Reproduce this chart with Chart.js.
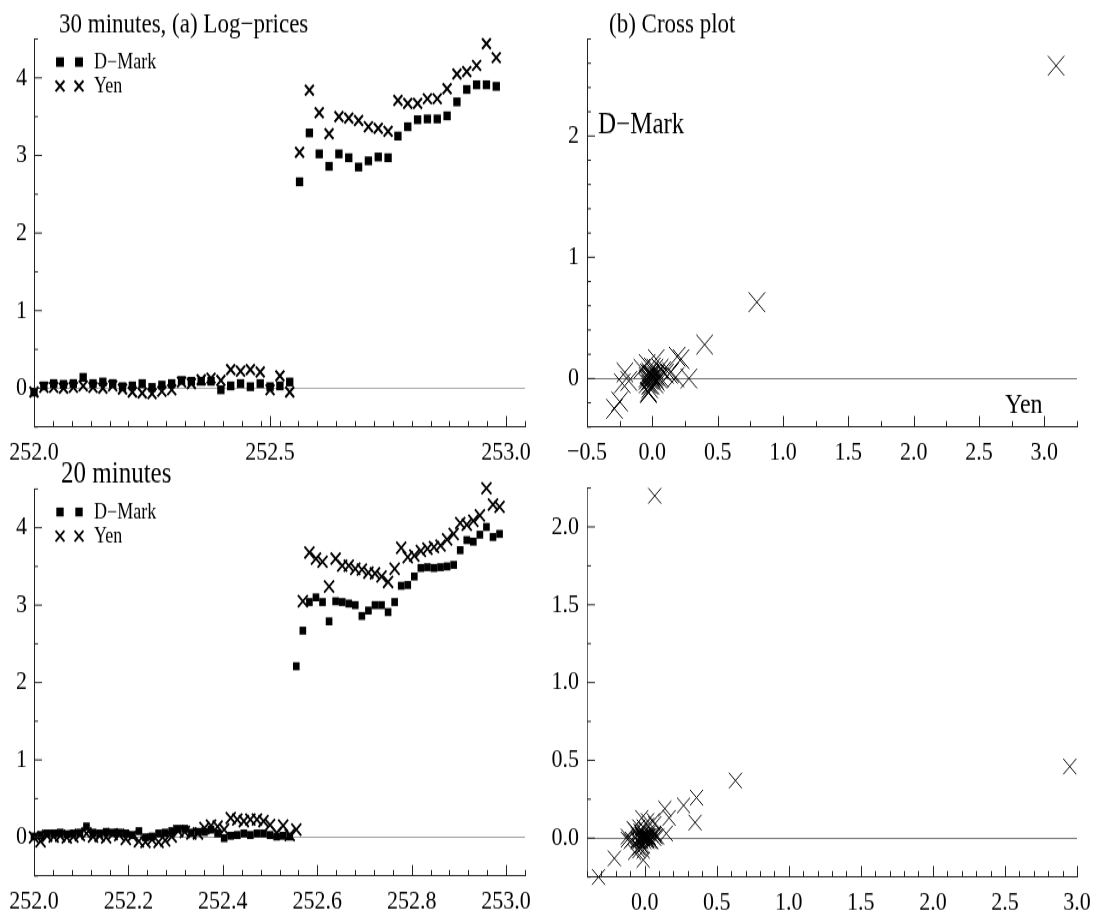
<!DOCTYPE html>
<html>
<head>
<meta charset="utf-8">
<title>Log-prices y cross plot</title>
<script src="https://cdn.jsdelivr.net/npm/chart.js@4/dist/chart.umd.min.js"></script>
<style>
    html, body { margin: 0; padding: 0; background: #fff; }
    #contenedor { position: relative; width: 1094px; height: 911px; }
    #contenedor canvas { position: absolute; left: 0; top: 0; }
</style>
</head>
<body>
<div id="contenedor">
    <!-- El lienzo se dibuja mas bajo y se estira en vertical, como la figura original -->
    <canvas id="precios30" width="1094" height="759" style="width:1094px;height:911px"></canvas>
    <canvas id="cruce30" width="1094" height="759" style="width:1094px;height:911px"></canvas>
    <canvas id="precios20" width="1094" height="759" style="width:1094px;height:911px"></canvas>
    <canvas id="cruce20" width="1094" height="759" style="width:1094px;height:911px"></canvas>
</div>
<script>
// --- DATOS ---
// Dia 252, observaciones cada 30 min (48 por dia) y cada 20 min (72 por dia)
const diaInicio = 252;
const obsPorDia30 = 48;
const obsPorDia20 = 72;

const dmark30 = [-0.05, 0.03, 0.06, 0.05, 0.06, 0.14, 0.06, 0.08, 0.06, 0.02,
    0.03, 0.06, 0.01, 0.04, 0.06, 0.10, 0.09, 0.09, 0.09, -0.02,
    0.03, 0.06, 0.02, 0.06, 0.02, 0.03, 0.08, 2.66, 3.29, 3.02,
    2.86, 3.02, 2.97, 2.85, 2.93, 2.98, 2.97, 3.25, 3.37, 3.46,
    3.47, 3.47, 3.51, 3.69, 3.85, 3.91, 3.91, 3.89];
const yen30 = [-0.05, 0.01, 0.01, 0.00, 0.01, 0.03, 0.01, 0.00, 0.03, -0.01,
    -0.05, -0.06, -0.07, -0.04, -0.02, 0.08, 0.06, 0.11, 0.13, 0.10,
    0.24, 0.22, 0.24, 0.21, -0.02, 0.16, -0.05, 3.04, 3.84, 3.55,
    3.28, 3.50, 3.48, 3.45, 3.37, 3.35, 3.31, 3.71, 3.67, 3.67,
    3.73, 3.73, 3.86, 4.05, 4.08, 4.16, 4.44, 4.26];

const dmark20 = [0.01, 0.03, 0.05, 0.05, 0.06, 0.04, 0.05, 0.06, 0.14, 0.06,
    0.05, 0.07, 0.06, 0.06, 0.05, 0.03, 0.08, 0.00, 0.01, 0.05,
    0.06, 0.08, 0.11, 0.11, 0.06, 0.07, 0.07, 0.10, 0.05, -0.01,
    0.02, 0.03, 0.05, 0.03, 0.05, 0.05, 0.03, 0.01, 0.02, 0.01,
    2.21, 2.67, 3.04, 3.10, 3.04, 2.79, 3.05, 3.04, 3.02, 3.00,
    2.86, 2.93, 3.00, 3.00, 2.91, 3.04, 3.25, 3.26, 3.37, 3.48,
    3.49, 3.48, 3.49, 3.50, 3.52, 3.71, 3.84, 3.82, 3.91, 4.01,
    3.88, 3.92];
const yen20 = [0.00, -0.05, 0.02, 0.01, 0.02, 0.00, 0.01, 0.03, 0.05, 0.01,
    0.02, 0.00, 0.04, 0.03, -0.02, 0.02, -0.05, -0.06, -0.03, -0.06,
    -0.04, 0.01, 0.08, 0.07, 0.05, 0.05, 0.12, 0.15, 0.14, 0.10,
    0.25, 0.23, 0.21, 0.23, 0.23, 0.21, 0.16, 0.06, 0.15, 0.03,
    0.10, 3.05, 3.68, 3.60, 3.56, 3.24, 3.60, 3.51, 3.51, 3.47,
    3.46, 3.42, 3.41, 3.37, 3.30, 3.47, 3.74, 3.62, 3.64, 3.70,
    3.73, 3.75, 3.77, 3.85, 3.92, 4.06, 4.04, 4.09, 4.16, 4.51,
    4.30, 4.27];

// Cross plot: x = Yen, y = D-Mark
const cruceYen30 = [0.06, 0.00, -0.01, 0.01, 0.02, -0.02, -0.01, 0.03, -0.04, -0.04,
    -0.01, -0.01, 0.03, 0.02, 0.10, -0.02, 0.05, 0.02, -0.03, 0.14,
    -0.02, 0.02, -0.03, -0.23, 0.18, -0.21, 3.09, 0.80, -0.29, -0.25,
    0.22, -0.02, -0.03, -0.08, -0.02, -0.04, 0.40, -0.04, 0.00, 0.06,
    0.00, 0.13, 0.19, 0.03, 0.08, 0.28, -0.18];
const cruceDm30 = [0.08, 0.03, -0.01, 0.01, 0.08, -0.08, 0.02, -0.02, -0.04, 0.01,
    0.03, -0.05, 0.03, 0.02, 0.04, -0.01, 0.00, 0.00, -0.11, 0.05,
    0.03, -0.04, 0.04, -0.04, 0.01, 0.05, 2.58, 0.63, -0.25, -0.19,
    0.16, -0.05, -0.12, 0.08, 0.05, -0.01, 0.28, 0.12, 0.09, 0.01,
    0.00, 0.04, 0.18, 0.16, 0.06, 0.00, -0.02];

const cruceYen20 = [-0.05, 0.07, -0.01, 0.01, -0.02, 0.01, 0.02, 0.02, -0.04, 0.01,
    -0.02, 0.04, -0.01, -0.05, 0.04, -0.07, -0.01, 0.03, -0.03, 0.02,
    0.05, 0.07, -0.01, -0.02, 0.00, 0.07, 0.03, -0.01, -0.04, 0.15,
    -0.02, -0.02, 0.02, 0.00, -0.02, -0.05, -0.10, 0.09, -0.12, 0.07,
    2.95, 0.63, -0.08, -0.04, -0.32, 0.36, -0.09, 0.00, -0.04, -0.01,
    -0.04, -0.01, -0.04, -0.07, 0.17, 0.27, -0.12, 0.02, 0.06, 0.03,
    0.02, 0.02, 0.08, 0.07, 0.14, -0.02, 0.05, 0.07, 0.35, -0.21, -0.03];
const cruceDm20 = [0.02, 0.02, 0.00, 0.01, -0.02, 0.01, 0.01, 0.08, -0.08, -0.01,
    0.02, -0.01, 0.00, -0.01, -0.02, 0.05, -0.08, 0.01, 0.04, 0.01,
    0.02, 0.03, 0.00, -0.05, 0.01, 0.00, 0.03, -0.05, -0.06, 0.03,
    0.01, 0.02, -0.02, 0.02, 0.00, -0.02, -0.02, 0.01, -0.01, 2.20,
    0.46, 0.37, 0.06, -0.06, -0.25, 0.26, -0.01, -0.02, -0.02, -0.14,
    0.07, 0.07, 0.00, -0.09, 0.13, 0.21, 0.01, 0.11, 0.11, 0.01,
    -0.01, 0.01, 0.01, 0.02, 0.19, 0.13, -0.02, 0.09, 0.10, -0.13, 0.04];

// Marcas con etiqueta
const marcasTiempo30 = [252.0, 252.5, 253.0];
const marcasTiempo20 = [252.0, 252.2, 252.4, 252.6, 252.8, 253.0];
const marcasPrecio = [0, 1, 2, 3, 4];
const marcasCruce30X = [-0.5, 0.0, 0.5, 1.0, 1.5, 2.0, 2.5, 3.0];
const marcasCruce30Y = [0, 1, 2];
const marcasCruce20X = [0.0, 0.5, 1.0, 1.5, 2.0, 2.5, 3.0];
const marcasCruce20Y = [0.0, 0.5, 1.0, 1.5, 2.0];

const FUENTE = '"Liberation Serif", "Times New Roman", serif';
// Factor de estiramiento vertical (911 px visibles / 759 px de lienzo)
const E = 911 / 759;

// --- AUXILIARES ---
function serieTemporal(valores, porDia) {
    return valores.map((v, i) => ({ x: diaInicio + i / porDia, y: v }));
}

function pares(xs, ys) {
    return xs.map((x, i) => ({ x: x, y: ys[i] }));
}

function formatear(v, dec) {
    return (v < 0 ? '\u2212' : '') + Math.abs(v).toFixed(dec);
}

function esMayor(v, mayores) {
    return mayores.some(m => Math.abs(m - v) < 1e-6);
}

// Todas las marcas (menores cada "paso" + las mayores)
function listaMarcas(min, max, paso, mayores) {
    const vals = [];
    const n = Math.round((max - min) / paso);
    for (let k = 0; k <= n; k++) {
        vals.push(Math.round((min + k * paso) * 10000) / 10000);
    }
    mayores.forEach(m => { if (!esMayor(m, vals)) vals.push(m); });
    return vals.sort((a, b) => a - b);
}

function escala(cfg) {
    const todas = listaMarcas(cfg.min, cfg.max, cfg.paso, cfg.mayores);
    const vertical = cfg.position === 'left';
    return {
        type: 'linear',
        position: cfg.position,
        min: cfg.min,
        max: cfg.max,
        afterBuildTicks: s => { s.ticks = todas.map(v => ({ value: v })); },
        afterFit: s => {
            if (vertical) { s.width = cfg.tam; s.paddingTop = 0; s.paddingBottom = 0; }
            else { s.height = cfg.tam; s.paddingLeft = 0; s.paddingRight = 0; }
        },
        border: { display: true, color: cfg.colorEje || '#222', width: 1 },
        grid: {
            display: !!cfg.cero,
            drawTicks: false,
            lineWidth: 0.9,
            color: c => (c.tick && Math.abs(c.tick.value) < 1e-9) ? cfg.cero : 'rgba(0,0,0,0)'
        },
        ticks: {
            autoSkip: false,
            maxRotation: 0,
            minRotation: 0,
            padding: cfg.pad,
            color: '#000',
            font: { family: FUENTE, size: 22 },
            callback: v => esMayor(v, cfg.mayores) ? formatear(v, cfg.dec) : ''
        }
    };
}

function dibujarMarca(ctx, estilo, x, y, r, ancho) {
    if (estilo === 'rect') {
        const lado = Math.SQRT2 * r;
        ctx.fillRect(x - lado / 2, y - lado / 2, lado, lado);
    } else {
        const d = Math.SQRT1_2 * r;
        ctx.lineWidth = ancho;
        ctx.beginPath();
        ctx.moveTo(x - d, y - d); ctx.lineTo(x + d, y + d);
        ctx.moveTo(x - d, y + d); ctx.lineTo(x + d, y - d);
        ctx.stroke();
    }
}

// --- PLUGINS ---
// Marcas de los ejes hacia adentro (largas con etiqueta, cortas sin ella)
const marcasInternas = {
    id: 'marcasInternas',
    afterDraw(chart) {
        const { ctx, chartArea } = chart;
        const sx = chart.scales.x;
        const sy = chart.scales.y;
        ctx.save();
        ctx.strokeStyle = '#222';
        ctx.lineWidth = 1;
        ctx.beginPath();
        sx.ticks.forEach(t => {
            const px = Math.round(sx.getPixelForValue(t.value)) + 0.5;
            const largo = (t.label ? 11 : 6) / E;
            ctx.moveTo(px, chartArea.bottom);
            ctx.lineTo(px, chartArea.bottom - largo);
        });
        sy.ticks.forEach(t => {
            const py = sy.getPixelForValue(t.value);
            const largo = t.label ? 8 : 4;
            ctx.moveTo(chartArea.left, py);
            ctx.lineTo(chartArea.left + largo, py);
        });
        ctx.stroke();
        ctx.restore();
    }
};

// Titulos, rotulos de ejes y leyenda con dos simbolos
const textosPanel = {
    id: 'textosPanel',
    afterDraw(chart, args, opciones) {
        const ctx = chart.ctx;
        ctx.save();
        ctx.fillStyle = '#000';
        ctx.strokeStyle = '#000';
        (opciones.textos || []).forEach(t => {
            ctx.font = t.size + 'px ' + FUENTE;
            ctx.textBaseline = 'alphabetic';
            ctx.textAlign = 'left';
            ctx.fillText(t.text, t.x, t.y / E);
        });
        if (opciones.leyenda) {
            const ca = chart.chartArea;
            ctx.font = '18px ' + FUENTE;
            ctx.textBaseline = 'middle';
            ctx.textAlign = 'left';
            chart.data.datasets.forEach((ds, k) => {
                const y = ca.top + (23 + k * 24) / E;
                const r = opciones.leyenda.radios[k];
                [26, 45].forEach(dx => dibujarMarca(ctx, ds.pointStyle, ca.left + dx, y, r, ds.pointBorderWidth));
                ctx.fillText(ds.label, ca.left + 60, y + 1);
            });
        }
        ctx.restore();
    }
};

function crearGrafico(id, datasets, escalas, padding, textos, leyenda) {
    return new Chart(document.getElementById(id), {
        type: 'scatter',
        data: { datasets: datasets },
        options: {
            responsive: false,
            animation: false,
            events: [],
            layout: { padding: padding },
            scales: escalas,
            plugins: {
                legend: { display: false },
                tooltip: { enabled: false },
                textosPanel: { textos: textos, leyenda: leyenda }
            }
        },
        plugins: [marcasInternas, textosPanel]
    });
}

function serieCuadros(label, data, radio) {
    return {
        label: label, data: data, clip: false,
        pointStyle: 'rect', pointRadius: radio,
        pointBackgroundColor: '#000', pointBorderColor: '#000', pointBorderWidth: 0
    };
}

function serieCruces(label, data, radio, ancho) {
    return {
        label: label, data: data, clip: false,
        pointStyle: 'crossRot', pointRadius: radio,
        pointBackgroundColor: 'rgba(0,0,0,0)', pointBorderColor: '#000', pointBorderWidth: ancho
    };
}

// --- GRAFICOS ---
// (a) Log-prices, 30 minutos
crearGrafico('precios30',
    [serieCuadros('D\u2212Mark', serieTemporal(dmark30, obsPorDia30), 5.2),
     serieCruces('Yen', serieTemporal(yen30, obsPorDia30), 6.2, 2)],
    {
        x: escala({ position: 'bottom', min: 252, max: 253.04, paso: 0.04, mayores: marcasTiempo30, dec: 1, tam: 40 / E, pad: 8 }),
        y: escala({ position: 'left', min: -0.5, max: 4.5, paso: 0.5, mayores: marcasPrecio, dec: 0, tam: 34, pad: 7, cero: '#a0a0a0' })
    },
    { left: 0, top: 39 / E, right: 569, bottom: 444 / E },
    [{ text: '30 minutes, (a) Log\u2212prices', x: 59, y: 33, size: 23 }],
    { radios: [5.6, 6.3] }
);

// (b) Cross plot, 30 minutos
crearGrafico('cruce30',
    [serieCruces('D\u2212Mark vs Yen', pares(cruceYen30, cruceDm30), 11.6, 1)],
    {
        x: escala({ position: 'bottom', min: -0.5, max: 3.25, paso: 0.25, mayores: marcasCruce30X, dec: 1, tam: 40 / E, pad: 8 }),
        y: escala({ position: 'left', min: -0.4, max: 2.8, paso: 0.2, mayores: marcasCruce30Y, dec: 0, tam: 60, pad: 8, cero: '#666' })
    },
    { left: 527, top: 39 / E, right: 17, bottom: 444 / E },
    [{ text: '(b) Cross plot', x: 609, y: 33, size: 23 },
     { text: 'D\u2212Mark', x: 598, y: 133, size: 25 },
     { text: 'Yen', x: 1005, y: 413, size: 24 }],
    null
);

// Log-prices, 20 minutos
crearGrafico('precios20',
    [serieCuadros('D\u2212Mark', serieTemporal(dmark20, obsPorDia20), 4.7),
     serieCruces('Yen', serieTemporal(yen20, obsPorDia20), 7, 1.8)],
    {
        x: escala({ position: 'bottom', min: 252, max: 253.04, paso: 0.04, mayores: marcasTiempo20, dec: 1, tam: 35 / E, pad: 8 }),
        y: escala({ position: 'left', min: -0.5, max: 4.5, paso: 0.5, mayores: marcasPrecio, dec: 0, tam: 34, pad: 7, cero: '#909090' })
    },
    { left: 0, top: 489 / E, right: 569, bottom: 0 },
    [{ text: '20 minutes', x: 61, y: 482, size: 25 }],
    { radios: [5.2, 6.3] }
);

// Cross plot, 20 minutos
crearGrafico('cruce20',
    [serieCruces('D\u2212Mark vs Yen', pares(cruceYen20, cruceDm20), 9.2, 1)],
    {
        x: escala({ position: 'bottom', min: -0.4, max: 3.0, paso: 0.1, mayores: marcasCruce20X, dec: 1, tam: 34 / E, pad: 8 }),
        y: escala({ position: 'left', min: -0.25, max: 2.25, paso: 0.25, mayores: marcasCruce20Y, dec: 1, tam: 60, pad: 8, cero: '#666', colorEje: '#666' })
    },
    { left: 527, top: 488 / E, right: 17, bottom: 0 },
    [],
    null
);
</script>
</body>
</html>
